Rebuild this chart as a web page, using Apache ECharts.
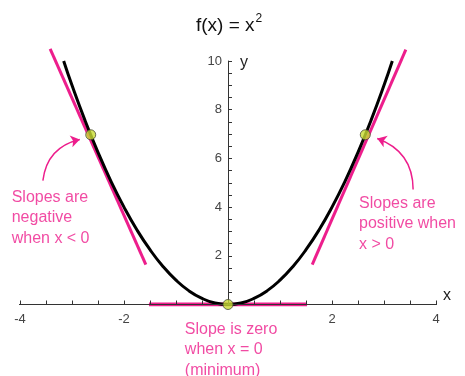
<!DOCTYPE html>
<html>
<head>
<meta charset="utf-8">
<script src="https://cdn.jsdelivr.net/npm/echarts@6/dist/echarts.min.js"></script>
<style>
  html, body { margin: 0; padding: 0; background: #fff; }
  #chart { width: 465px; height: 376px; }
</style>
</head>
<body>
<div id="chart"></div>
<script>
// f(x) = x^2
const curvePoints = [
  [-3.16, 10], [-3, 9], [-2.75, 7.56], [-2.5, 6.25], [-2.25, 5.06], [-2, 4],
  [-1.75, 3.06], [-1.5, 2.25], [-1.25, 1.56], [-1, 1], [-0.75, 0.56], [-0.5, 0.25],
  [-0.25, 0.06], [0, 0], [0.25, 0.06], [0.5, 0.25], [0.75, 0.56], [1, 1],
  [1.25, 1.56], [1.5, 2.25], [1.75, 3.06], [2, 4], [2.25, 5.06], [2.5, 6.25],
  [2.75, 7.56], [3, 9], [3.16, 10]
]
const tangentLeft = [[-3.42, 10.5], [-1.58, 1.64]]
const tangentRight = [[1.62, 1.64], [3.42, 10.47]]
const tangentZero = [[-1.52, 0], [1.52, 0]]
const touchPoints = [[-2.64, 6.97], [0, 0], [2.64, 6.97]]
const axisExtent = [[-4.15, 0], [4.2, 0]]
const arrowLeft = [[-3.56, 5.09], [-2.85, 6.78]]
const arrowRight = [[3.56, 4.72], [2.87, 6.82]]
const notes = [
  { pos: [-4.16, 4.83], text: 'Slopes are\nnegative\nwhen x < 0' },
  { pos: [2.52, 4.58], text: 'Slopes are\npositive when\nx > 0' },
  { pos: [-0.83, -0.6], text: 'Slope is zero\nwhen x = 0\n(minimum)' }
]

const pink = '#ED1E8C'
const axisColor = '#333'
const font = '"Liberation Sans", Arial, sans-serif'

const chart = echarts.init(document.getElementById('chart'))
chart.setOption({
  animation: false,
  title: {
    text: '{a|f(x) = x}{b|2}',
    left: 191,
    top: 8,
    textStyle: {
      rich: {
        a: { fontSize: 19, fontWeight: 'normal', fontFamily: font, color: '#111', verticalAlign: 'bottom' },
        b: { fontSize: 12, fontWeight: 'normal', fontFamily: font, color: '#111', verticalAlign: 'top', padding: [0, 0, 10, 1] }
      }
    }
  },
  grid: { left: 20, width: 416, top: 61, bottom: 71.5 },
  xAxis: {
    type: 'value',
    min: -4,
    max: 4,
    interval: 2,
    z: 5,
    name: 'x',
    nameGap: 11,
    nameTextStyle: { fontSize: 16, fontFamily: font, color: '#222', align: 'center', verticalAlign: 'bottom', padding: [0, 0, 1, 0] },
    axisLine: { onZero: true, lineStyle: { color: axisColor, width: 1 } },
    axisTick: { inside: true, length: 4, lineStyle: { color: axisColor } },
    minorTick: { show: true, splitNumber: 4, length: 4, lineStyle: { color: axisColor } },
    axisLabel: {
      margin: 8,
      fontSize: 13,
      fontFamily: font,
      color: '#444',
      formatter: v => (v === 0 ? '' : String(v))
    },
    splitLine: { show: false }
  },
  yAxis: {
    type: 'value',
    min: 0,
    max: 10,
    interval: 2,
    z: 5,
    position: 'left',
    offset: -208,
    name: 'y',
    nameGap: -2,
    nameTextStyle: { fontSize: 16, fontFamily: font, color: '#222', align: 'left', verticalAlign: 'middle', padding: [0, 0, 6, 12] },
    axisLine: { show: true, onZero: false, lineStyle: { color: axisColor, width: 1 } },
    axisTick: { inside: true, length: 4, lineStyle: { color: axisColor } },
    minorTick: { show: true, splitNumber: 4, length: 4, lineStyle: { color: axisColor } },
    axisLabel: {
      margin: 6,
      fontSize: 13,
      fontFamily: font,
      color: '#444',
      formatter: v => (v === 0 ? '' : String(v))
    },
    splitLine: { show: false }
  },
  series: [
    {
      type: 'line',
      data: axisExtent,
      clip: false,
      symbol: 'none',
      z: 6,
      lineStyle: { color: axisColor, width: 1 }
    },
    {
      type: 'line',
      data: tangentZero,
      symbol: 'none',
      z: 1,
      lineStyle: { color: pink, width: 4 }
    },
    {
      type: 'line',
      data: tangentLeft,
      clip: false,
      symbol: 'none',
      z: 2,
      lineStyle: { color: pink, width: 3 }
    },
    {
      type: 'line',
      data: tangentRight,
      clip: false,
      symbol: 'none',
      z: 2,
      lineStyle: { color: pink, width: 3 }
    },
    {
      type: 'line',
      data: curvePoints,
      smooth: true,
      symbol: 'none',
      z: 3,
      lineStyle: { color: '#000', width: 3 }
    },
    {
      type: 'lines',
      coordinateSystem: 'cartesian2d',
      symbol: ['none', 'arrow'],
      symbolSize: 9,
      z: 4,
      lineStyle: { color: pink, width: 1.5, opacity: 1 },
      data: [
        { coords: arrowLeft, lineStyle: { curveness: 0.35 } },
        { coords: arrowRight, lineStyle: { curveness: -0.35 } }
      ]
    },
    {
      type: 'scatter',
      data: touchPoints,
      symbolSize: 10,
      z: 10,
      itemStyle: { color: '#C8DC32', borderColor: '#4a4a3a', borderWidth: 1 }
    },
    {
      type: 'scatter',
      clip: false,
      symbolSize: 0,
      silent: true,
      data: notes.map(n => ({ value: n.pos, note: n.text })),
      label: {
        show: true,
        position: 'inside',
        align: 'left',
        verticalAlign: 'top',
        fontSize: 16,
        lineHeight: 20.5,
        fontFamily: font,
        color: pink,
        formatter: p => p.data.note
      }
    }
  ]
})
</script>
</body>
</html>
